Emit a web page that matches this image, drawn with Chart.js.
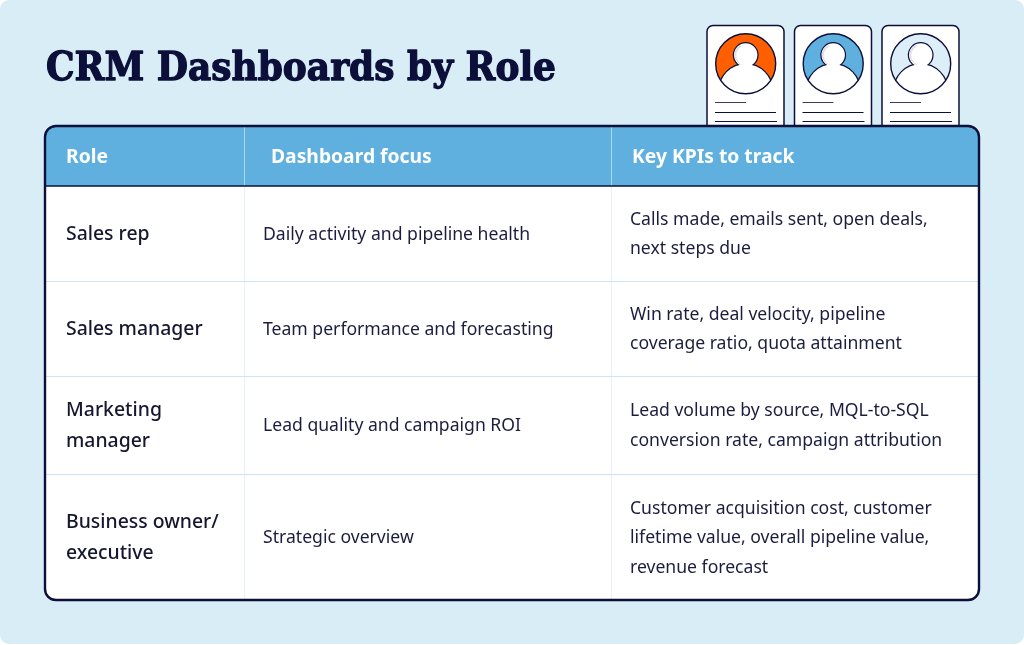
<!DOCTYPE html>
<html>
<head>
<meta charset="utf-8">
<title>CRM Dashboards by Role</title>
<script src="https://cdn.jsdelivr.net/npm/chart.js@4"></script>
<style>
  html, body { margin: 0; padding: 0; background: #fff; }
  #c { display: block; }
</style>
</head>
<body>
<canvas id="c" width="1024" height="645"></canvas>
<script>
// Table content
const chartTitle = 'CRM Dashboards by Role';
const headers = ['Role', 'Dashboard focus', 'Key KPIs to track'];
const roles = [['Sales rep'], ['Sales manager'], ['Marketing', 'manager'], ['Business owner/', 'executive']];
const focus = [
  ['Daily activity and pipeline health'],
  ['Team performance and forecasting'],
  ['Lead quality and campaign ROI'],
  ['Strategic overview']
];
const kpis = [
  ['Calls made, emails sent, open deals,', 'next steps due'],
  ['Win rate, deal velocity, pipeline', 'coverage ratio, quota attainment'],
  ['Lead volume by source, MQL-to-SQL', 'conversion rate, campaign attribution'],
  ['Customer acquisition cost, customer', 'lifetime value, overall pipeline value,', 'revenue forecast']
];
const avatarColors = ['#FF5F00', '#5FB0DE', '#DCEEF7'];

// Layout, in page units (the scales map these onto the canvas)
const colEdges = [45, 244, 611, 979];
const rowEdges = [126, 186, 281, 376, 474, 600];
const headerX = [66, 271, 632];
const cellX = [66, 263, 630];
const cardX = [707, 794.5, 882];
const NAVY = '#0C0F3A';
const bodyFont = '"Noto Sans", sans-serif';

const rowMid = i => (rowEdges[i + 1] + rowEdges[i + 2]) / 2 + 1;
const cellData = (col, x) => col.map((lines, i) => ({ x, y: rowMid(i), lines }));

// page background, table frame, header band, grid and avatar cards
const tablePlugin = {
  id: 'tablePlugin',
  beforeDatasetsDraw(chart) {
    const g = chart.ctx;
    const X = v => chart.scales.x.getPixelForValue(v);
    const Y = v => chart.scales.y.getPixelForValue(v);

    // page
    g.save();
    g.fillStyle = '#D9EDF6';
    g.beginPath();
    g.roundRect(X(0), Y(0), X(1024), Y(644), 9);
    g.fill();

    // title
    g.fillStyle = NAVY;
    g.strokeStyle = NAVY;
    g.lineWidth = 1.3;
    g.lineJoin = 'round';
    g.font = '900 39px "DejaVu Serif", serif';
    g.textBaseline = 'alphabetic';
    g.fillText(chartTitle, X(46), Y(80), 510);
    g.strokeText(chartTitle, X(46), Y(80), 510);

    cardX.forEach((x, i) => drawCard(g, X(x), Y(25.5), avatarColors[i]));

    // table body
    const L = X(colEdges[0]), R = X(colEdges[3]), T = Y(rowEdges[0]), B = Y(rowEdges[5]);
    const frame = () => { g.beginPath(); g.roundRect(L, T, R - L, B - T, 11); };
    frame();
    g.fillStyle = '#fff';
    g.fill();
    g.save();
    frame();
    g.clip();
    g.fillStyle = '#5FB0DE';
    g.fillRect(L, T, R - L, Y(rowEdges[1]) - T);

    // column rules
    g.lineWidth = 1;
    colEdges.slice(1, 3).forEach(c => {
      g.strokeStyle = '#A9D5EE';
      g.beginPath(); g.moveTo(X(c) + .5, T); g.lineTo(X(c) + .5, Y(rowEdges[1])); g.stroke();
      g.strokeStyle = '#E8F1F9';
      g.beginPath(); g.moveTo(X(c) + .5, Y(rowEdges[1])); g.lineTo(X(c) + .5, B); g.stroke();
    });
    // row rules
    g.strokeStyle = '#CFE4F8';
    rowEdges.slice(2, 5).forEach(r => {
      g.beginPath(); g.moveTo(L, Y(r) + .5); g.lineTo(R, Y(r) + .5); g.stroke();
    });
    g.restore();

    g.strokeStyle = NAVY;
    g.lineWidth = 1.6;
    g.beginPath(); g.moveTo(L, Y(rowEdges[1])); g.lineTo(R, Y(rowEdges[1])); g.stroke();
    g.lineWidth = 2.4;
    frame();
    g.stroke();

    // header labels
    g.fillStyle = '#fff';
    g.font = '700 19.3px ' + bodyFont;
    g.textBaseline = 'middle';
    headers.forEach((h, i) => g.fillText(h, X(headerX[i]), (T + Y(rowEdges[1])) / 2 + 1.5));
    g.restore();
  },
  // cell text sits on the dataset's points
  afterDatasetsDraw(chart) {
    const g = chart.ctx;
    g.save();
    g.textBaseline = 'middle';
    chart.data.datasets.forEach((ds, di) => {
      const pts = chart.getDatasetMeta(di).data;
      g.fillStyle = di === 0 ? '#15172F' : '#1B1D3F';
      g.font = (di === 0 ? '500 19.4px ' : '400 17.6px ') + bodyFont;
      const step = di === 0 ? 30.5 : 29.5;
      pts.forEach((p, i) => {
        const lines = ds.data[i].lines;
        lines.forEach((t, k) => g.fillText(t, p.x, p.y + (k - (lines.length - 1) / 2) * step));
      });
    });
    g.restore();
  }
};

function drawCard(g, x, y, color) {
  const w = 77, h = 105, cx = x + 38.7, cy = y + 38.2;
  g.beginPath(); g.roundRect(x, y, w, h, 6);
  g.fillStyle = '#fff'; g.fill();
  g.strokeStyle = NAVY; g.lineWidth = 1.5; g.stroke();

  // portrait
  g.save();
  g.beginPath(); g.arc(cx, cy, 30, 0, Math.PI * 2);
  g.fillStyle = color; g.fill();
  g.clip();
  const person = paint => {
    g.beginPath();
    g.ellipse(cx, cy + 28, 27, 27.5, 0, 0, Math.PI * 2);
    paint();
    g.beginPath();
    g.arc(cx, cy - 8.7, 11.7, 0, Math.PI * 2);
    paint();
  };
  // outline both shapes, then fill over the inner half so only the union edge stays
  g.strokeStyle = NAVY; g.lineWidth = 2.4;
  person(() => g.stroke());
  g.fillStyle = '#fff';
  person(() => g.fill());
  // faint shadow inside the head and shoulders
  g.fillStyle = '#E0E0E7';
  g.beginPath(); g.arc(cx - 1, cy - 8.7, 10.4, Math.PI * .55, Math.PI * 1.4); g.fill();
  g.fillStyle = '#fff';
  g.beginPath(); g.arc(cx + .8, cy - 8.2, 10.2, 0, Math.PI * 2); g.fill();
  g.restore();
  g.beginPath(); g.arc(cx, cy, 30, 0, Math.PI * 2);
  g.strokeStyle = NAVY; g.lineWidth = 1.4; g.stroke();

  // text lines on the card
  g.lineWidth = 1;
  g.strokeStyle = '#3B3D5E';
  g.beginPath(); g.moveTo(x + 8, y + 77); g.lineTo(x + 39, y + 77); g.stroke();
  g.strokeStyle = NAVY;
  g.beginPath(); g.moveTo(x + 8, y + 87); g.lineTo(x + 69, y + 87); g.stroke();
  g.beginPath(); g.moveTo(x + 8, y + 96); g.lineTo(x + 70, y + 96); g.stroke();
}

new Chart(document.getElementById('c'), {
  type: 'scatter',
  data: {
    datasets: [
      { label: headers[0], data: cellData(roles, cellX[0]), pointRadius: 0 },
      { label: headers[1], data: cellData(focus, cellX[1]), pointRadius: 0 },
      { label: headers[2], data: cellData(kpis, cellX[2]), pointRadius: 0 }
    ]
  },
  options: {
    responsive: false,
    animation: false,
    devicePixelRatio: 1,
    layout: { padding: 0 },
    plugins: { legend: { display: false }, tooltip: { enabled: false } },
    scales: {
      x: { type: 'linear', display: false, min: 0, max: 1024 },
      y: { type: 'linear', display: false, min: 0, max: 645, reverse: true }
    }
  },
  plugins: [tablePlugin]
});
</script>
</body>
</html>
